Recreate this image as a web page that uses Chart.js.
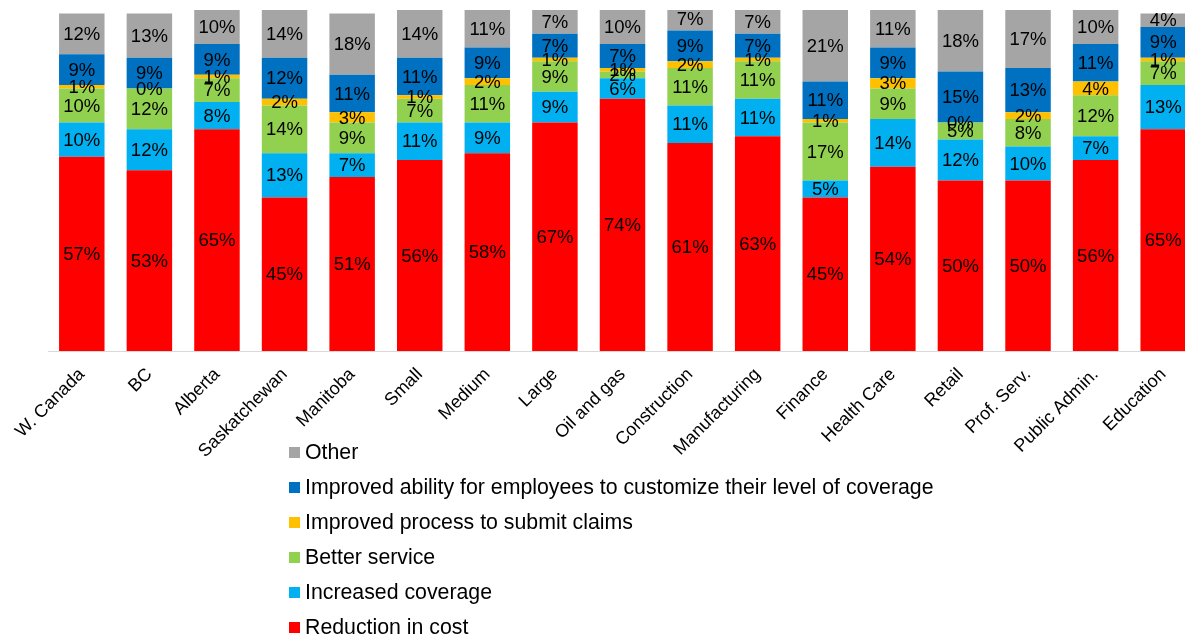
<!DOCTYPE html>
<html>
<head>
<meta charset="utf-8">
<script src="https://cdn.jsdelivr.net/npm/chart.js@4.4.1/dist/chart.umd.min.js"></script>
<style>
  html, body { margin: 0; padding: 0; background: #fff; overflow: hidden; }
  #wrap { position: relative; width: 1185px; height: 640px; overflow: hidden; }
  #chart { position: absolute; left: 0; top: 0; }
  #legend { position: absolute; left: 289px; top: 435px; font-family: "Liberation Sans", Arial, sans-serif; font-size: 21.3px; color: #000; }
  #legend .item { height: 35px; line-height: 35px; white-space: nowrap; display: flex; align-items: center; }
  #legend .box { width: 11px; height: 11px; margin-right: 5px; flex: none; }
</style>
</head>
<body>
<div id="wrap">
  <canvas id="chart" width="1197" height="640"></canvas>
  <div id="legend"></div>
</div>
<script>
const categories = ["W. Canada", "BC", "Alberta", "Saskatchewan", "Manitoba", "Small", "Medium", "Large",
  "Oil and gas", "Construction", "Manufacturing", "Finance", "Health Care", "Retail", "Prof. Serv.",
  "Public Admin.", "Education"];

const reductionInCost   = [57, 53, 65, 45, 51, 56, 58, 67, 74, 61, 63, 45, 54, 50, 50, 56, 65];
const increasedCoverage = [10, 12, 8, 13, 7, 11, 9, 9, 6, 11, 11, 5, 14, 12, 10, 7, 13];
const betterService     = [10, 12, 7, 14, 9, 7, 11, 9, 2, 11, 11, 17, 9, 5, 8, 12, 7];
const improvedProcess   = [1, 0, 1, 2, 3, 1, 2, 1, 1, 2, 1, 1, 3, 0, 2, 4, 1];
const improvedAbility   = [9, 9, 9, 12, 11, 11, 9, 7, 7, 9, 7, 11, 9, 15, 13, 11, 9];
const other             = [12, 13, 10, 14, 18, 14, 11, 7, 10, 7, 7, 21, 11, 18, 17, 10, 4];

const seriesNames = ["Reduction in cost", "Increased coverage", "Better service",
  "Improved process to submit claims",
  "Improved ability for employees to customize their level of coverage", "Other"];
const seriesValues = [reductionInCost, increasedCoverage, betterService, improvedProcess, improvedAbility, other];
const seriesColors = ["#FF0000", "#00B0F0", "#92D050", "#FFC000", "#0070C0", "#A5A5A5"];

const FONT = '"Liberation Sans", Arial, sans-serif';

// Writes each segment's percentage in the middle of its bar piece
const segmentLabels = {
  id: 'segmentLabels',
  afterDatasetsDraw(chart) {
    const ctx = chart.ctx;
    ctx.save();
    ctx.font = '18.5px ' + FONT;
    ctx.fillStyle = '#000';
    ctx.textAlign = 'center';
    ctx.textBaseline = 'middle';
    chart.data.datasets.forEach((ds, i) => {
      const meta = chart.getDatasetMeta(i);
      meta.data.forEach((bar, j) => {
        const p = bar.getProps(['x', 'y', 'base'], true);
        ctx.fillText(ds.data[j] + '%', p.x, (p.y + p.base) / 2 + 1);
      });
    });
    ctx.restore();
  }
};

const chart = new Chart(document.getElementById('chart'), {
  type: 'bar',
  data: {
    labels: categories,
    datasets: seriesNames.map((name, i) => ({
      label: name,
      data: seriesValues[i],
      backgroundColor: seriesColors[i],
      borderWidth: 0,
      barPercentage: 0.673,
      categoryPercentage: 1
    }))
  },
  options: {
    responsive: false,
    animation: false,
    devicePixelRatio: 1,
    layout: { padding: { left: 48, right: 0, top: 10, bottom: 0 } },
    plugins: { legend: { display: false }, tooltip: { enabled: false } },
    scales: {
      x: {
        stacked: true,
        grid: { display: false, drawTicks: false },
        border: { display: true, color: '#D9D9D9', width: 1 },
        ticks: {
          autoSkip: false, minRotation: 45, maxRotation: 45, padding: 13,
          color: '#000', font: { family: FONT, size: 18 }
        },
        afterFit(scale) { scale.height = 289; }
      },
      y: {
        stacked: true, display: false, min: 0, max: 100
      }
    }
  },
  plugins: [segmentLabels]
});

// Vertical legend, listed top-down from the last series to the first
const legendEl = document.getElementById('legend');
chart.data.datasets.slice().reverse().forEach(ds => {
  const item = document.createElement('div');
  item.className = 'item';
  const box = document.createElement('span');
  box.className = 'box';
  box.style.background = ds.backgroundColor;
  const txt = document.createElement('span');
  txt.textContent = ds.label;
  item.appendChild(box);
  item.appendChild(txt);
  legendEl.appendChild(item);
});
</script>
</body>
</html>
